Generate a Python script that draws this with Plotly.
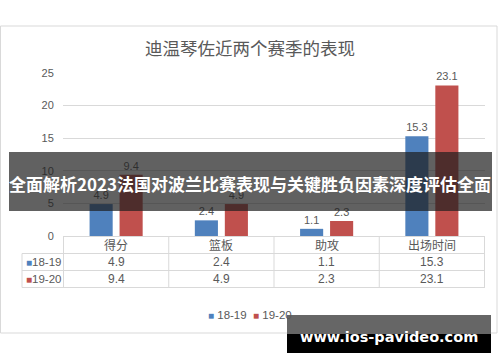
import plotly.graph_objects as go

categories = ["得分", "篮板", "助攻", "出场时间"]
season_names = ["18-19", "19-20"]
values_1819 = [4.9, 2.4, 1.1, 15.3]
values_1920 = [9.4, 4.9, 2.3, 23.1]
y_ticks = [0, 5, 10, 15, 20, 25]

title_text = "迪温琴佐近两个赛季的表现"
banner_text = "全面解析2023法国对波兰比赛表现与关键胜负因素深度评估全面"
watermark_text = "www.ios-pavideo.com"

BLUE = "#4F81BD"
RED = "#C0504D"
GRAY_TXT = "#595959"
GRID = "#D9D9D9"
CJK = "Noto Sans CJK SC"
NUM = "Liberation Sans"

# plot-area pixel geometry
L, R, T, B = 63, 485, 73, 236
W, H = R - L, B - T


def px(x):
    return (x - L) / W


def py(y):
    return (B - y) / H


fig = go.Figure()
for name, vals, col in [(season_names[0], values_1819, BLUE), (season_names[1], values_1920, RED)]:
    fig.add_trace(go.Bar(
        x=categories, y=vals, name=name, marker=dict(color=col, line=dict(width=0)),
        text=[f"{v:.1f}" for v in vals], textposition="outside",
        textfont=dict(family=NUM, size=11, color=GRAY_TXT), cliponaxis=False,
    ))

shapes = []
annotations = []

# outer chart frame
shapes.append(dict(type="rect", xref="paper", yref="paper", x0=px(0.5), x1=px(497), y0=py(26), y1=py(333),
                   line=dict(color=GRID, width=1), fillcolor="rgba(0,0,0,0)", layer="below"))

# data table lines
row_lines = [253.5, 270.5, 287.5]
for yy in row_lines:
    shapes.append(dict(type="line", xref="paper", yref="paper", x0=px(22), x1=px(485), y0=py(yy), y1=py(yy),
                       line=dict(color=GRID, width=1)))
for i in range(len(categories) + 1):
    shapes.append(dict(type="line", xref="x", yref="paper", x0=i - 0.5, x1=i - 0.5, y0=py(236), y1=py(287.5),
                       line=dict(color=GRID, width=1)))
shapes.append(dict(type="line", xref="paper", yref="paper", x0=px(22), x1=px(22), y0=py(253.5), y1=py(287.5),
                   line=dict(color=GRID, width=1)))

# table text
for c in categories:
    annotations.append(dict(x=c, y=py(245), xref="x", yref="paper", text=c, showarrow=False,
                            font=dict(family=CJK, size=12, color=GRAY_TXT), yanchor="middle"))
for row_y, name, vals, col in [(262, season_names[0], values_1819, BLUE), (279, season_names[1], values_1920, RED)]:
    annotations.append(dict(x=px(24), y=py(row_y), xref="paper", yref="paper", xanchor="left", yanchor="middle",
                            text=f'<span style="color:{col};font-size:10px">■</span>{name}', showarrow=False,
                            font=dict(family=NUM, size=11.5, color=GRAY_TXT)))
    for c, v in zip(categories, vals):
        annotations.append(dict(x=c, y=py(row_y), xref="x", yref="paper", text=f"{v:.1f}", showarrow=False,
                                font=dict(family=NUM, size=12, color=GRAY_TXT), yanchor="middle"))

# bottom legend
legend_html = (f'<span style="color:{BLUE};font-size:10px">■</span> {season_names[0]}&nbsp;&nbsp;'
               f'<span style="color:{RED};font-size:10px">■</span> {season_names[1]}')
annotations.append(dict(x=px(250), y=py(315), xref="paper", yref="paper", text=legend_html, showarrow=False,
                        font=dict(family=NUM, size=11.5, color=GRAY_TXT), xanchor="center", yanchor="middle"))

# title
annotations.append(dict(x=px(250), y=py(47), xref="paper", yref="paper", text=title_text, showarrow=False,
                        font=dict(family=CJK, size=17.5, color=GRAY_TXT), xanchor="center", yanchor="middle"))

# banner overlay
shapes.append(dict(type="rect", xref="paper", yref="paper", x0=px(9), x1=px(492), y0=py(152), y1=py(211),
                   line=dict(width=0), fillcolor="rgba(30,30,30,0.7)", layer="above"))
annotations.append(dict(x=px(250), y=py(183), xref="paper", yref="paper", text=f"<b>{banner_text}</b>",
                        showarrow=False, font=dict(family=CJK, size=17, color="white"),
                        xanchor="center", yanchor="middle"))

# watermark overlay
shapes.append(dict(type="rect", xref="paper", yref="paper", x0=px(287), x1=px(491), y0=py(315), y1=py(334),
                   line=dict(width=0), fillcolor="#666666", layer="above"))
shapes.append(dict(type="rect", xref="paper", yref="paper", x0=px(287), x1=px(491), y0=py(334), y1=py(353),
                   line=dict(width=0), fillcolor="#000000", layer="above"))
annotations.append(dict(x=px(389), y=py(337), xref="paper", yref="paper", text=f"<b>{watermark_text}</b>",
                        showarrow=False, font=dict(family="DejaVu Sans", size=14.5, color="white"),
                        xanchor="center", yanchor="middle"))

fig.update_layout(
    width=500, height=362,
    margin=dict(l=L, r=500 - R, t=T, b=362 - B, autoexpand=False),
    paper_bgcolor="white", plot_bgcolor="white",
    barmode="group", bargap=0.43, bargroupgap=0.23,
    showlegend=False,
    shapes=shapes, annotations=annotations,
    xaxis=dict(showticklabels=False, showgrid=False, zeroline=False, showline=True, linecolor=GRID,
               ticks="", fixedrange=True),
    yaxis=dict(range=[0, 25], tickvals=y_ticks, showgrid=True, gridcolor=GRID, gridwidth=1, zeroline=False,
               showline=False, ticks="outside", ticklen=6, tickcolor="rgba(0,0,0,0)",
               tickfont=dict(family=NUM, size=11, color=GRAY_TXT)),
)

fig.write_html("out.html", config={"displayModeBar": False},
               post_script="document.body.style.margin='0';document.body.style.padding='0';")
